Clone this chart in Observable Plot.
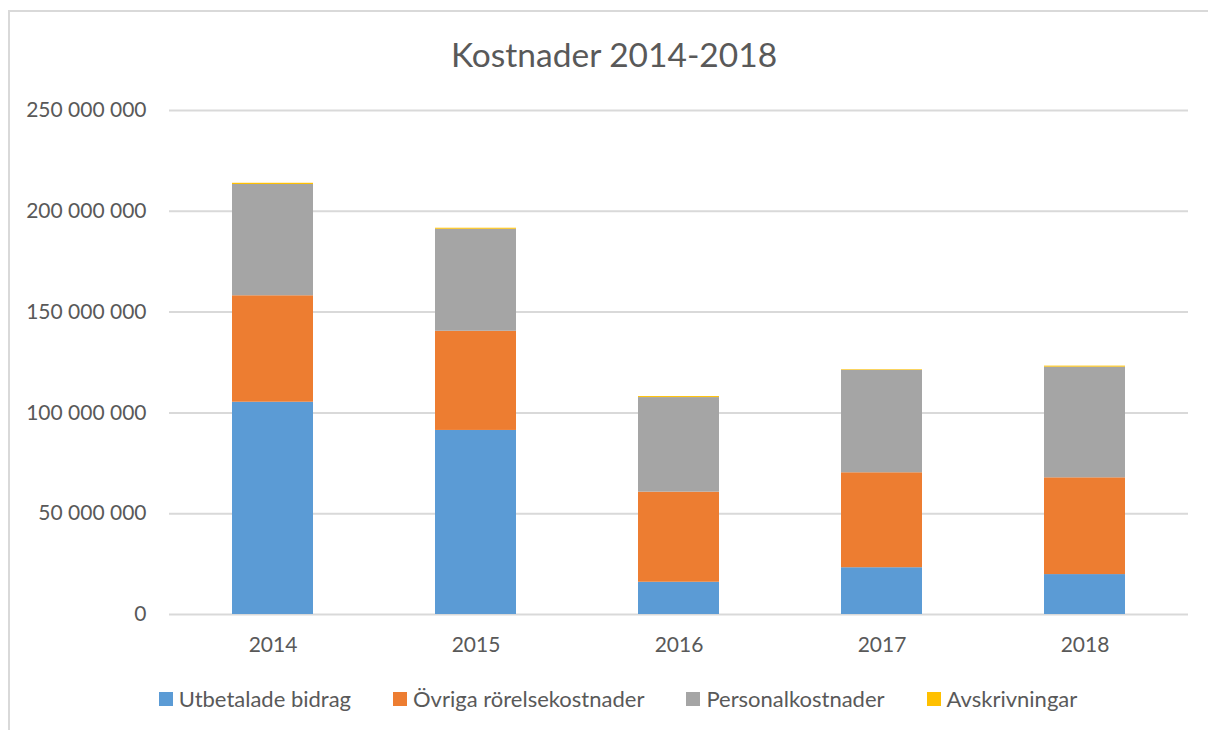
<!DOCTYPE html>
<html>
<head>
<meta charset="utf-8">
<script src="https://cdn.jsdelivr.net/npm/d3@7"></script>
<script src="https://cdn.jsdelivr.net/npm/@observablehq/plot@0.6"></script>
<style>
  html, body { margin: 0; padding: 0; background: #fff; overflow: hidden; }
  body { width: 1208px; height: 730px; position: relative; font-family: Lato, "Open Sans", sans-serif; color: #595959; }
  #frame { position: absolute; left: 8px; top: 10px; width: 1400px; height: 900px; border: 2px solid #d9d9d9; box-sizing: border-box; }
  #title { position: absolute; left: 0; width: 1228px; top: 34px; text-align: center; font-size: 33.5px; line-height: 40px; color: #595959; }
  #chart { position: absolute; left: 0; top: 90px; }
  #legend { position: absolute; left: 0; width: 1236px; top: 686px; display: flex; justify-content: center; gap: 42px; font-size: 22px; line-height: 26px; }
  .item { display: flex; align-items: center; }
  .sw { width: 14px; height: 14px; margin-right: 6px; }
</style>
</head>
<body>
<div id="frame"></div>
<div id="title">Kostnader 2014-2018</div>
<div id="chart"></div>
<div id="legend"></div>
<script>
const years = ["2014", "2015", "2016", "2017", "2018"];
const seriesNames = ["Utbetalade bidrag", "Övriga rörelsekostnader", "Personalkostnader", "Avskrivningar"];
const seriesColors = ["#5B9BD5", "#ED7D31", "#A5A5A5", "#FFC000"];
const utbetaladeBidrag = [105300000, 91300000, 16000000, 23200000, 19800000];
const ovrigaRorelsekostnader = [52800000, 49200000, 44700000, 47100000, 48000000];
const personalkostnader = [55200000, 50600000, 46900000, 50800000, 54900000];
const avskrivningar = [600000, 500000, 500000, 300000, 500000];
const yTicks = [0, 50000000, 100000000, 150000000, 200000000, 250000000];

const seriesValues = [utbetaladeBidrag, ovrigaRorelsekostnader, personalkostnader, avskrivningar];
const rows = [];
seriesNames.forEach((s, i) => {
  years.forEach((y, j) => rows.push({year: y, series: s, value: seriesValues[i][j]}));
});

const fmt = d3.formatLocale({decimal: ",", thousands: " ", grouping: [3], currency: ["", ""]}).format(",d");

const chart = Plot.plot({
  width: 1208,
  height: 580,
  marginTop: 20,
  marginBottom: 56,
  marginLeft: 169,
  marginRight: 20,
  style: {fontFamily: "Lato, 'Open Sans', sans-serif", fontSize: "21px", color: "#595959", background: "transparent"},
  x: {domain: years, paddingInner: 0.6, paddingOuter: 0.3, label: null},
  y: {domain: [0, 250000000], label: null},
  color: {domain: seriesNames, range: seriesColors},
  marks: [
    Plot.gridY(yTicks, {stroke: "#d9d9d9", strokeOpacity: 1, strokeWidth: 2}),
    Plot.barY(rows, Plot.stackY({order: seriesNames}, {x: "year", y: "value", z: "series", fill: "series"})),
    Plot.axisX({tickSize: 0, tickPadding: 23, fill: "#595959"}),
    Plot.axisY(yTicks, {tickSize: 0, tickPadding: 23, tickFormat: fmt, fill: "#595959"})
  ]
});
document.getElementById("chart").appendChild(chart);

const legend = document.getElementById("legend");
seriesNames.forEach((s, i) => {
  const it = document.createElement("div");
  it.className = "item";
  const sw = document.createElement("span");
  sw.className = "sw";
  sw.style.background = seriesColors[i];
  const t = document.createElement("span");
  t.textContent = s;
  it.appendChild(sw);
  it.appendChild(t);
  legend.appendChild(it);
});
</script>
</body>
</html>
